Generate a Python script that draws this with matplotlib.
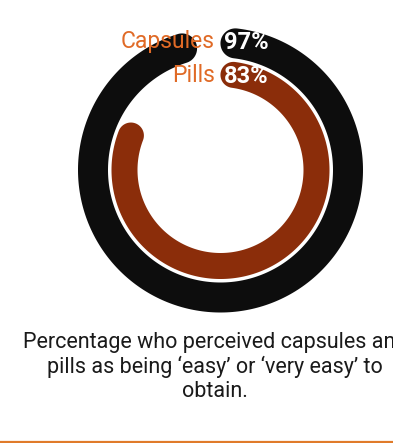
import numpy as np
import matplotlib.pyplot as plt
from matplotlib.patches import Polygon

plt.rcParams['font.family'] = ['Roboto', 'DejaVu Sans']

# ring data (outer ring first)
labels = ['Capsules', 'Pills']
values = [97, 83]
ring_colors = ['#0d0d0d', '#8b2d0a']
caption = 'Percentage who perceived capsules and\npills as being ‘easy’ or ‘very easy’ to\nobtain.'

W, H = 393, 443
cx, cy = 220.5, 170.0
radii = [127.5, 96.0]       # centre line of each ring (px)
widths = [30.0, 26.0]
label_color = '#e06a26'


def rounded_arc(ax, r, w, frac, color):
    # band from 12 o'clock clockwise, round ends kept inside the arc
    h = w / 2
    total = 2 * np.pi * frac
    pad = h / r
    t = np.linspace(pad, total - pad, 300)
    # screen y grows downward, so clockwise = +x at top
    ox, oy = cx + (r + h) * np.sin(t), cy - (r + h) * np.cos(t)
    ix, iy = cx + (r - h) * np.sin(t[::-1]), cy - (r - h) * np.cos(t[::-1])
    s = np.linspace(0, np.pi, 40)
    # end cap
    ex, ey = cx + r * np.sin(t[-1]), cy - r * np.cos(t[-1])
    ux, uy = np.sin(t[-1]), -np.cos(t[-1])      # radial unit
    vx, vy = np.cos(t[-1]), np.sin(t[-1])       # tangential unit
    capx = ex + h * (ux * np.cos(s) + vx * np.sin(s))
    capy = ey + h * (uy * np.cos(s) + vy * np.sin(s))
    # start cap
    sx, sy = cx + r * np.sin(t[0]), cy - r * np.cos(t[0])
    ux0, uy0 = np.sin(t[0]), -np.cos(t[0])
    vx0, vy0 = np.cos(t[0]), np.sin(t[0])
    cap0x = sx + h * (-ux0 * np.cos(s) - vx0 * np.sin(s))
    cap0y = sy + h * (-uy0 * np.cos(s) - vy0 * np.sin(s))
    xs = np.concatenate([ox, capx, ix, cap0x])
    ys = np.concatenate([oy, capy, iy, cap0y])
    ax.add_patch(Polygon(np.column_stack([xs, ys]), closed=True,
                         facecolor=color, edgecolor='none'))


fig = plt.figure(figsize=(W / 100, H / 100), dpi=100)
ax = fig.add_axes([0, 0, 1, 1])
ax.set_xlim(0, W)
ax.set_ylim(H, 0)
ax.axis('off')

for r, w, v, c in zip(radii, widths, values, ring_colors):
    rounded_arc(ax, r, w, v / 100, c)

label_y = [41, 75]
for name, v, y in zip(labels, values, label_y):
    ax.text(215, y, name, ha='right', va='center', fontsize=16.5,
            color=label_color)
    ax.text(224, y + 1, f'{v}%', ha='left', va='center', fontsize=17,
            fontweight='bold', color='white')

ax.text(215, 367, caption, ha='center', va='center', fontsize=15.5,
        color='#1a1a1a', linespacing=1.2)

ax.plot([0, W], [441.5, 441.5], color='#e07b2a', lw=1.6,
        solid_capstyle='butt')

fig.savefig('out.png', dpi=100)
